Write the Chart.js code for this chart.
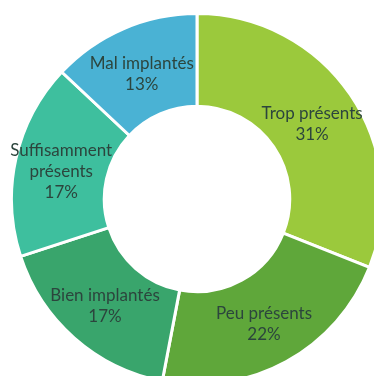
<!DOCTYPE html>
<html>
<head>
<meta charset="utf-8">
<script src="https://cdn.jsdelivr.net/npm/chart.js@4/dist/chart.umd.min.js"></script>
<style>
  html, body { margin: 0; padding: 0; background: #ffffff; }
  #frame { position: relative; width: 374px; height: 376px; overflow: hidden; background: #ffffff; }
  #chart { position: absolute; left: 10px; top: 12px; }
</style>
</head>
<body>
<div id="frame"><canvas id="chart" width="374" height="374"></canvas></div>
<script>
// Répartition des catégories (en %)
const categories = [
  ["Trop présents"],
  ["Peu présents"],
  ["Bien implantés"],
  ["Suffisamment", "présents"],
  ["Mal implantés"]
];
const values = [31, 22, 17, 17, 13];
const colors = ["#9bc93c", "#5fa73a", "#39a56c", "#3ebf9e", "#4ab2d4"];

// Writes each slice's name and percentage at the centre of its arc
const sliceLabels = {
  id: "sliceLabels",
  afterDatasetsDraw(chart) {
    const ctx = chart.ctx;
    const meta = chart.getDatasetMeta(0);
    ctx.save();
    ctx.fillStyle = "#2c453d";
    ctx.font = "17px Lato, 'Open Sans', sans-serif";
    ctx.textAlign = "center";
    ctx.textBaseline = "middle";
    const lineH = 21;
    meta.data.forEach((arc, i) => {
      const p = arc.getCenterPoint();
      const lines = categories[i].concat([values[i] + "%"]);
      const y0 = p.y + 3 - (lines.length - 1) * lineH / 2;
      lines.forEach((t, k) => ctx.fillText(t, p.x, y0 + k * lineH));
    });
    ctx.restore();
  }
};

new Chart(document.getElementById("chart"), {
  type: "doughnut",
  data: {
    labels: categories.map(c => c.join(" ")),
    datasets: [{
      data: values,
      backgroundColor: colors,
      borderColor: "#ffffff",
      borderWidth: 3,
      hoverOffset: 0
    }]
  },
  options: {
    responsive: false,
    animation: false,
    cutout: "50%",
    layout: { padding: 0 },
    plugins: {
      legend: { display: false },
      tooltip: { enabled: false }
    }
  },
  plugins: [sliceLabels]
});
</script>
</body>
</html>
